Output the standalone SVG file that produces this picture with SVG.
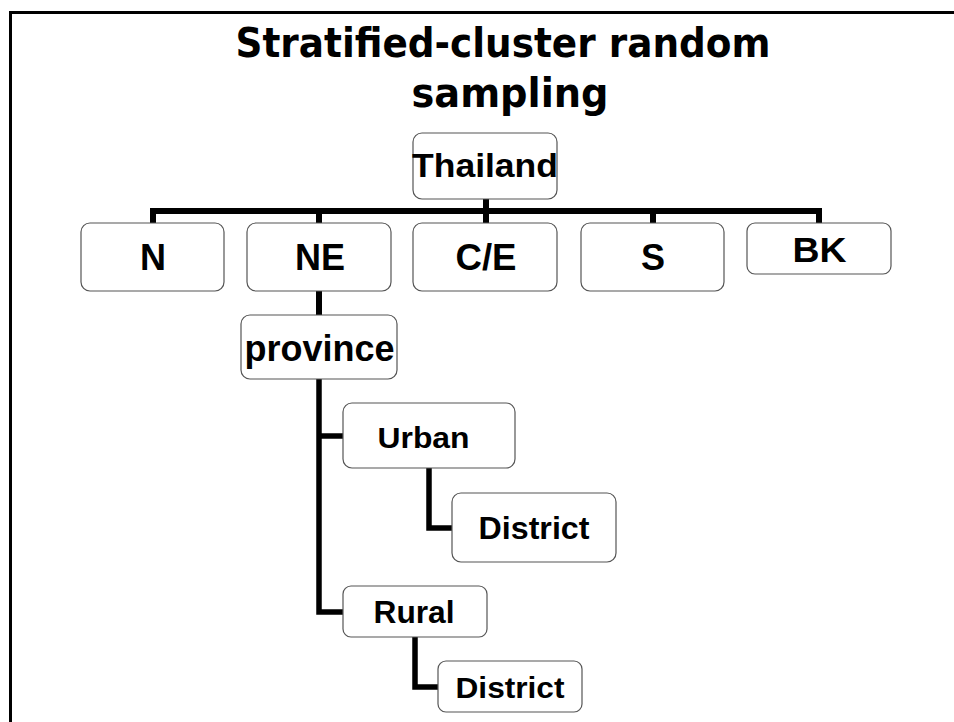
<svg xmlns="http://www.w3.org/2000/svg" width="954" height="722" viewBox="0 0 954 722">
  <style>
    .frame { fill: none; stroke: #000; stroke-width: 3; }
    .title { font-family: "DejaVu Sans Condensed", "DejaVu Sans", sans-serif; font-weight: bold; font-size: 41px; fill: #000; text-anchor: middle; }
    .box { fill: #fff; stroke: #555; stroke-width: 1.2; }
    .label { font-family: "Liberation Sans", Arial, sans-serif; font-weight: bold; fill: #000; text-anchor: middle; }
    .link { fill: none; stroke: #000; stroke-width: 6; stroke-linejoin: miter; stroke-linecap: butt; }
  </style>

  <rect width="954" height="722" fill="#fff"/>
  <path class="frame" d="M10.5 722 V12.5 H954"/>

  <g id="title">
    <text class="title" x="503" y="57" textLength="535" lengthAdjust="spacingAndGlyphs">Stratified-cluster random</text>
    <text class="title" x="510" y="107" textLength="197" lengthAdjust="spacingAndGlyphs">sampling</text>
  </g>

  <g id="connectors">
    <path class="link" d="M486 199 V211"/>
    <path class="link" d="M150 211 H822"/>
    <path class="link" d="M153 211 V223"/>
    <path class="link" d="M319 211 V223"/>
    <path class="link" d="M486 211 V223"/>
    <path class="link" d="M653 211 V223"/>
    <path class="link" d="M819 211 V223"/>
    <path class="link" d="M319 291 V315"/>
    <path class="link" style="stroke-width:5.5" d="M319 379 V612 H343"/>
    <path class="link" style="stroke-width:5.5" d="M319 436 H343"/>
    <path class="link" style="stroke-width:5.5" d="M429 468 V528 H452"/>
    <path class="link" style="stroke-width:5.5" d="M415 637 V687 H438"/>
  </g>

  <g id="node-thailand">
    <rect class="box" x="413" y="133" width="144" height="66" rx="9"/>
    <text class="label" x="485" y="177" font-size="34" textLength="146" lengthAdjust="spacingAndGlyphs">Thailand</text>
  </g>
  <g id="node-n">
    <rect class="box" x="81" y="223" width="143" height="68" rx="9"/>
    <text class="label" x="153" y="270" font-size="36">N</text>
  </g>
  <g id="node-ne">
    <rect class="box" x="247" y="223" width="144" height="68" rx="9"/>
    <text class="label" x="320" y="270" font-size="36" textLength="50" lengthAdjust="spacingAndGlyphs">NE</text>
  </g>
  <g id="node-ce">
    <rect class="box" x="413" y="223" width="144" height="68" rx="9"/>
    <text class="label" x="486" y="270" font-size="36" textLength="61" lengthAdjust="spacingAndGlyphs">C/E</text>
  </g>
  <g id="node-s">
    <rect class="box" x="581" y="223" width="143" height="68" rx="9"/>
    <text class="label" x="653" y="270" font-size="36">S</text>
  </g>
  <g id="node-bk">
    <rect class="box" x="747" y="223" width="144" height="51" rx="8"/>
    <text class="label" x="819.5" y="262" font-size="35" textLength="54" lengthAdjust="spacingAndGlyphs">BK</text>
  </g>
  <g id="node-province">
    <rect class="box" x="241" y="315" width="156" height="64" rx="9"/>
    <text class="label" x="319.5" y="361" font-size="36" textLength="150" lengthAdjust="spacingAndGlyphs">province</text>
  </g>
  <g id="node-urban">
    <rect class="box" x="343" y="403" width="172" height="65" rx="9"/>
    <text class="label" x="423.5" y="448" font-size="30" textLength="92" lengthAdjust="spacingAndGlyphs">Urban</text>
  </g>
  <g id="node-district-urban">
    <rect class="box" x="452" y="493" width="164" height="69" rx="9"/>
    <text class="label" x="534" y="539" font-size="31" textLength="111" lengthAdjust="spacingAndGlyphs">District</text>
  </g>
  <g id="node-rural">
    <rect class="box" x="343" y="586" width="144" height="51" rx="8"/>
    <text class="label" x="414" y="623" font-size="31" textLength="81" lengthAdjust="spacingAndGlyphs">Rural</text>
  </g>
  <g id="node-district-rural">
    <rect class="box" x="438" y="661" width="144" height="51" rx="8"/>
    <text class="label" x="510" y="698" font-size="30" textLength="109" lengthAdjust="spacingAndGlyphs">District</text>
  </g>
</svg>
